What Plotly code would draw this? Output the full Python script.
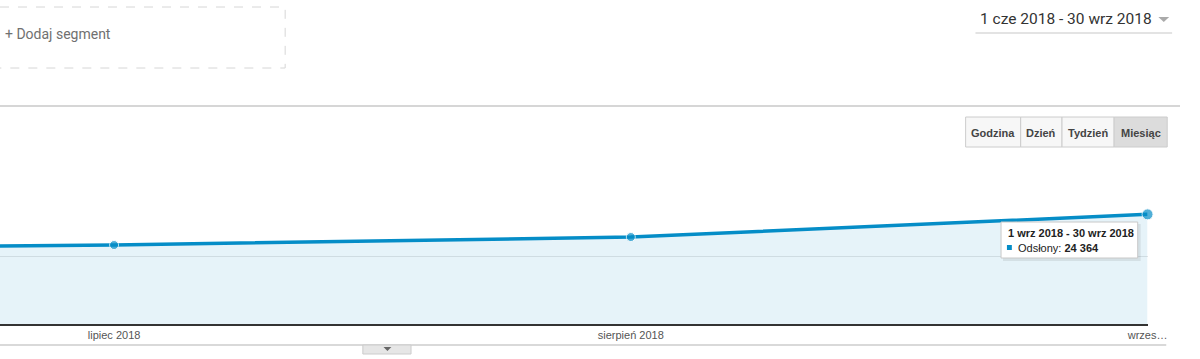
import plotly.graph_objects as go

W, H = 1200, 359

# ---- data ----
months = ["czerwiec 2018", "lipiec 2018", "sierpień 2018", "wrzesień 2018"]
views = [16500, 17550, 19330, 24364]
tick_labels = ["", "lipiec 2018", "sierpień 2018", "wrzes…"]
y_ticks = [0, 15000, 30000]
buttons = ["Godzina", "Dzień", "Tydzień", "Miesiąc"]
selected_button = "Miesiąc"
date_range = "1 cze 2018 - 30 wrz 2018"
tooltip_title = "1 wrz 2018 - 30 wrz 2018"
metric_name = "Odsłony"


def fmt(v):
    return f"{v:,}".replace(",", " ")


def px(x):
    return x / W


def py(y):
    return 1 - y / H


BLUE = "#058DC7"

fig = go.Figure()
fig.add_trace(go.Scatter(
    x=months, y=views, mode="lines+markers",
    line=dict(color=BLUE, width=3.5),
    marker=dict(color=BLUE, size=[9, 9, 9, 11]),
    fill="tozeroy", fillcolor="rgba(5,141,199,0.1)",
    cliponaxis=False, hoverinfo="skip",
))

# plot area geometry (pixels)
plot_left, plot_right = 0, 1167
plot_top, plot_bottom = 189, 324
first_px, step_px = 116, (1167 - 116) / 2
x_lo = 1 - (first_px - plot_left) / step_px

shapes = []
annotations = []

# separator line under header
shapes.append(dict(type="line", xref="paper", yref="paper", x0=0, x1=1,
                   y0=py(106), y1=py(106), line=dict(color="#c8c8c8", width=1.5)))
# dashed segment box (left side cut off)
shapes.append(dict(type="path", xref="paper", yref="paper",
                   path=f"M 0,{py(7)} L {px(290)},{py(7)} L {px(290)},{py(68)} L 0,{py(68)}",
                   line=dict(color="#d6d6d6", width=1, dash="dash")))
annotations.append(dict(text="+ Dodaj segment", xref="paper", yref="paper", x=px(3), y=py(34),
                        xanchor="left", yanchor="middle", showarrow=False,
                        font=dict(family="Roboto", size=14, color="#707070")))
# date range selector
annotations.append(dict(text=date_range, xref="paper", yref="paper", x=px(995), y=py(19),
                        xanchor="left", yanchor="middle", showarrow=False,
                        font=dict(family="Roboto", size=15.5, color="#333333")))
shapes.append(dict(type="path", xref="paper", yref="paper",
                   path=f"M {px(1178)},{py(17)} L {px(1189)},{py(17)} L {px(1183.5)},{py(22)} Z",
                   fillcolor="#aaaaaa", line=dict(width=0)))
shapes.append(dict(type="line", xref="paper", yref="paper", x0=px(992), x1=px(1192),
                   y0=py(33), y1=py(33), line=dict(color="#e3e3e3", width=2)))

# period buttons
edges = [982, 1038, 1080, 1133, 1187]
for i, b in enumerate(buttons):
    sel = b == selected_button
    shapes.append(dict(type="rect", xref="paper", yref="paper", x0=px(edges[i]), x1=px(edges[i + 1]),
                       y0=py(147), y1=py(117),
                       fillcolor="#dcdcdc" if sel else "#f7f7f7",
                       line=dict(color="#cccccc", width=1)))
    annotations.append(dict(text=f"<b>{b}</b>", xref="paper", yref="paper",
                            x=px((edges[i] + edges[i + 1]) / 2), y=py(133),
                            xanchor="center", yanchor="middle", showarrow=False,
                            font=dict(family="Liberation Sans", size=11, color="#444444")))

# bottom line and tab
shapes.append(dict(type="line", xref="paper", yref="paper", x0=0, x1=px(1186),
                   y0=py(345), y1=py(345), line=dict(color="#cccccc", width=1.5)))
shapes.append(dict(type="rect", xref="paper", yref="paper", x0=px(369), x1=px(418),
                   y0=py(354), y1=py(345), fillcolor="#e6e6e6", line=dict(color="#cccccc", width=1)))
shapes.append(dict(type="path", xref="paper", yref="paper",
                   path=f"M {px(390)},{py(347)} L {px(398)},{py(347)} L {px(394)},{py(351)} Z",
                   fillcolor="#666666", line=dict(width=0)))

# tooltip
shapes.append(dict(type="rect", xref="paper", yref="paper", x0=px(1020), x1=px(1160),
                   y0=py(261), y1=py(224), fillcolor="rgba(0,0,0,0.08)", line=dict(width=0)))
shapes.append(dict(type="rect", xref="paper", yref="paper", x0=px(1018), x1=px(1157),
                   y0=py(258), y1=py(222), fillcolor="white", line=dict(color="#c8c8c8", width=1)))
annotations.append(dict(text=f"<b>{tooltip_title}</b>", xref="paper", yref="paper", x=px(1023), y=py(233),
                        xanchor="left", yanchor="middle", showarrow=False,
                        font=dict(family="Liberation Sans", size=11, color="#222222")))
shapes.append(dict(type="rect", xref="paper", yref="paper", x0=px(1024), x1=px(1029),
                   y0=py(250), y1=py(245), fillcolor=BLUE, line=dict(width=0)))
annotations.append(dict(text=f"{metric_name}: <b>{fmt(views[-1])}</b>", xref="paper", yref="paper",
                        x=px(1033), y=py(248), xanchor="left", yanchor="middle", showarrow=False,
                        font=dict(family="Liberation Sans", size=11, color="#222222")))

fig.update_layout(
    width=W, height=H, autosize=False,
    margin=dict(l=0, r=0, t=0, b=0, pad=0),
    paper_bgcolor="white", plot_bgcolor="white",
    showlegend=False,
    shapes=shapes, annotations=annotations,
    xaxis=dict(domain=[px(plot_left), px(plot_right)], range=[x_lo, 3],
               tickmode="array", tickvals=months, ticktext=tick_labels,
               showgrid=False, zeroline=False, showline=True, linecolor="#333333", linewidth=2,
               ticks="", tickfont=dict(family="Liberation Sans", size=11, color="#555555"),
               fixedrange=True),
    yaxis=dict(domain=[py(plot_bottom), py(plot_top)], range=[0, 30000],
               tickvals=y_ticks, showticklabels=False, showgrid=True, gridcolor="#e6e6e6",
               gridwidth=1, zeroline=False, showline=False, fixedrange=True),
)

fig.write_html("out.html", config={"responsive": False, "displayModeBar": False})
